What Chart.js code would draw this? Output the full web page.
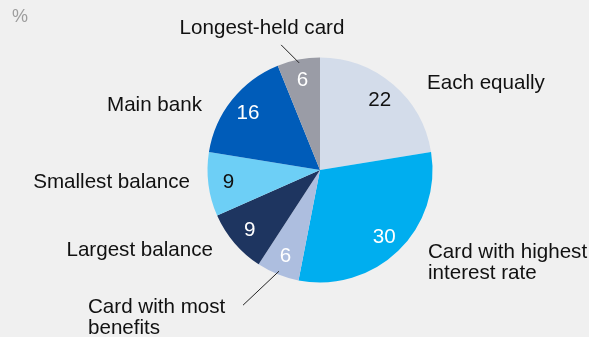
<!DOCTYPE html>
<html>
<head>
<meta charset="utf-8">
<script src="https://cdn.jsdelivr.net/npm/chart.js@4.4.0/dist/chart.umd.min.js"></script>
<style>
  html, body { margin: 0; padding: 0; background: #f0f0f0; }
  #wrap { width: 589px; height: 337px; }
</style>
</head>
<body>
<div id="wrap"><canvas id="pieChart" width="589" height="337"></canvas></div>
<script>
// slices go clockwise from 12 o'clock
const categories = [
  "Each equally",
  ["Card with highest", "interest rate"],
  ["Card with most", "benefits"],
  "Largest balance",
  "Smallest balance",
  "Main bank",
  "Longest-held card",
];
const shares = [22, 30, 6, 9, 9, 16, 6];
const unitLabel = "%";

const sliceColors = ["#d3dcea", "#00aeef", "#adbedf", "#1e3560", "#6dcff6", "#005cb9", "#9a9ca6"];
const valueColors = ["#111111", "#ffffff", "#ffffff", "#ffffff", "#111111", "#ffffff", "#ffffff"];

// where each category name sits, relative to the pie centre
const nameLayout = [
  { dx: 107, dy: -81, align: "left" },
  { dx: 108, dy: 88, align: "left" },
  { dx: -232, dy: 143, align: "left" },
  { dx: -107, dy: 86, align: "right" },
  { dx: -130, dy: 18, align: "right" },
  { dx: -118, dy: -59, align: "right" },
  { dx: -58, dy: -136, align: "center" },
];
// leader lines for the two thin slices: offset from the slice edge point
const leaders = { 2: { dx: -36, dy: 34 }, 6: { dx: -18, dy: -18 } };

const FONT = '20.6px "Liberation Sans", Arial, sans-serif';

const pieLabels = {
  id: "pieLabels",
  afterDatasetsDraw(chart) {
    const ctx = chart.ctx;
    const arcs = chart.getDatasetMeta(0).data;
    ctx.save();

    // unit in the corner
    ctx.font = '18px "Liberation Sans", Arial, sans-serif';
    ctx.fillStyle = "#9d9d9d";
    ctx.textAlign = "left";
    ctx.textBaseline = "alphabetic";
    ctx.fillText(unitLabel, 12, 22);

    ctx.font = FONT;
    arcs.forEach((arc, i) => {
      const mid = (arc.startAngle + arc.endAngle) / 2;
      const r = arc.outerRadius;

      // value inside the slice
      ctx.fillStyle = valueColors[i];
      ctx.textAlign = "center";
      ctx.textBaseline = "middle";
      ctx.fillText(String(shares[i]), arc.x + Math.cos(mid) * r * 0.82, arc.y + Math.sin(mid) * r * 0.82 + 1);

      // category name outside
      const lay = nameLayout[i];
      const lines = Array.isArray(categories[i]) ? categories[i] : [categories[i]];
      ctx.fillStyle = "#111111";
      ctx.textAlign = lay.align;
      ctx.textBaseline = "alphabetic";
      lines.forEach((line, k) => {
        ctx.fillText(line, arc.x + lay.dx, arc.y + lay.dy + k * 21);
      });

      if (leaders[i]) {
        const x0 = arc.x + Math.cos(mid) * r * 0.97;
        const y0 = arc.y + Math.sin(mid) * r * 0.97;
        ctx.strokeStyle = "#222222";
        ctx.lineWidth = 1;
        ctx.beginPath();
        ctx.moveTo(x0, y0);
        ctx.lineTo(x0 + leaders[i].dx, y0 + leaders[i].dy);
        ctx.stroke();
      }
    });
    ctx.restore();
  },
};

new Chart(document.getElementById("pieChart"), {
  type: "pie",
  data: {
    labels: categories,
    datasets: [{
      data: shares,
      backgroundColor: sliceColors,
      borderWidth: 0,
    }],
  },
  options: {
    responsive: false,
    animation: false,
    layout: { padding: { left: 150, right: 99, top: 57.5, bottom: 54.5 } },
    plugins: {
      legend: { display: false },
      tooltip: { enabled: false },
    },
  },
  plugins: [pieLabels],
});
</script>
</body>
</html>
